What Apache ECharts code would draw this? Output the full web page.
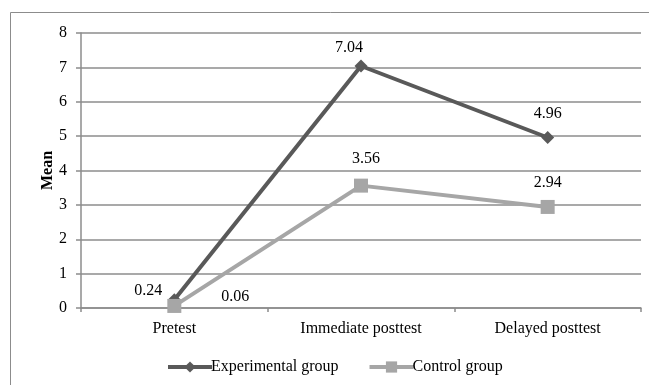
<!DOCTYPE html>
<html>
<head>
<meta charset="utf-8">
<script src="https://cdn.jsdelivr.net/npm/echarts@6/dist/echarts.min.js"></script>
<style>
  html, body { margin: 0; padding: 0; background: #fff; }
  #chart { width: 649px; height: 385px; }
</style>
</head>
<body>
<div id="chart"></div>
<script>
// Test phases on the x axis
const phases = ['Pretest', 'Immediate posttest', 'Delayed posttest'];
// Mean scores per group
const experimentalMeans = [0.24, 7.04, 4.96];
const controlMeans = [0.06, 3.56, 2.94];
// Y axis range
const yMin = 0, yMax = 8, yStep = 1;

// Label nudges (pixels from each marker centre)
const expLabelShift = [[-26, -9], [-12, -18], [0, -24]];
const ctrlLabelShift = [[61, -9], [5, -27], [0, -24]];

const serif = 'Liberation Serif, Times New Roman, serif';
const fs = 16;

function withLabels(values, shifts) {
  return values.map((v, i) => ({
    value: v,
    label: { offset: shifts[i] }
  }));
}

const chart = echarts.init(document.getElementById('chart'));
chart.setOption({
  animation: false,
  backgroundColor: '#fff',
  graphic: [{
    type: 'rect',
    shape: { x: 10.5, y: 12.5, width: 700, height: 400 },
    style: { fill: 'none', stroke: '#8c8c8c', lineWidth: 1 },
    silent: true
  }],
  grid: { left: 81, right: 8, top: 33, bottom: 77 },
  legend: {
    left: 161,
    top: 354,
    itemWidth: 44,
    itemHeight: 14,
    itemGap: 29,
    lineStyle: { width: 4 },
    textStyle: { fontFamily: serif, fontSize: fs, color: '#000', padding: [0, 0, 0, -6] },
    data: ['Experimental group', 'Control group']
  },
  xAxis: {
    type: 'category',
    data: phases,
    boundaryGap: true,
    axisLine: { lineStyle: { color: '#8c8c8c', width: 1.5 } },
    axisTick: { show: true, length: 4, lineStyle: { color: '#8c8c8c', width: 1.5 } },
    axisLabel: { fontFamily: serif, fontSize: fs, color: '#000', margin: 13 }
  },
  yAxis: {
    type: 'value',
    min: yMin,
    max: yMax,
    interval: yStep,
    name: 'Mean',
    nameLocation: 'middle',
    nameGap: 25,
    nameMoveOverlap: false,
    nameTextStyle: { fontFamily: serif, fontSize: fs, fontWeight: 'bold', color: '#000' },
    axisLine: { show: true, lineStyle: { color: '#8c8c8c', width: 1.5 } },
    axisTick: { show: true, length: 5, lineStyle: { color: '#8c8c8c', width: 1.5 } },
    axisLabel: { fontFamily: serif, fontSize: fs, color: '#000', margin: 14 },
    splitLine: { lineStyle: { color: '#8c8c8c', width: 1.5 } }
  },
  series: [
    {
      name: 'Experimental group',
      type: 'line',
      data: withLabels(experimentalMeans, expLabelShift),
      symbol: 'diamond',
      symbolSize: 13,
      lineStyle: { color: '#595959', width: 4 },
      itemStyle: { color: '#595959' },
      label: {
        show: true,
        position: 'inside',
        fontFamily: serif,
        fontSize: fs,
        color: '#000',
        formatter: p => p.value.toFixed(2)
      },
      z: 2
    },
    {
      name: 'Control group',
      type: 'line',
      data: withLabels(controlMeans, ctrlLabelShift),
      symbol: 'rect',
      symbolSize: 14,
      lineStyle: { color: '#a6a6a6', width: 4 },
      itemStyle: { color: '#a6a6a6' },
      label: {
        show: true,
        position: 'inside',
        fontFamily: serif,
        fontSize: fs,
        color: '#000',
        formatter: p => p.value.toFixed(2)
      },
      z: 3
    }
  ]
});
</script>
</body>
</html>
